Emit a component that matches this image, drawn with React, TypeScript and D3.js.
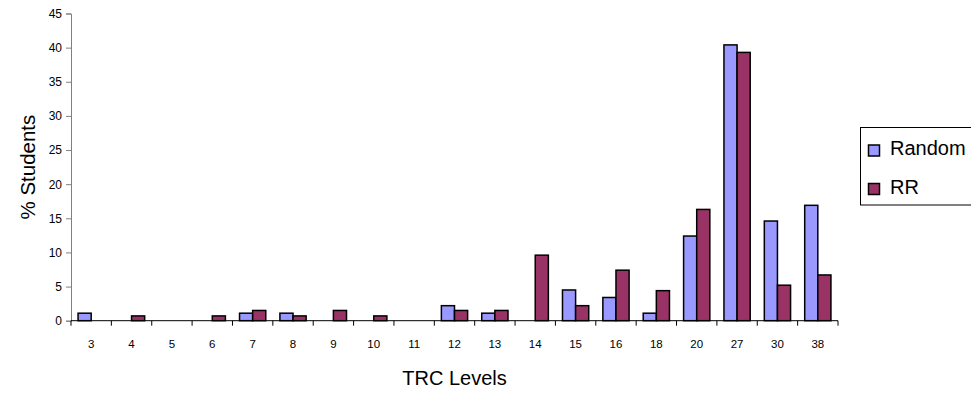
import React, { useEffect, useRef } from 'react';
import * as d3 from 'd3';

// TRC level categories
const levels = ['3', '4', '5', '6', '7', '8', '9', '10', '11', '12', '13', '14', '15', '16', '18', '20', '27', '30', '38'];
// % students per level
const randomValues = [1.1, 0, 0, 0, 1.1, 1.1, 0, 0, 0, 2.2, 1.1, 0, 4.5, 3.4, 1.1, 12.4, 40.4, 14.6, 16.9];
const rrValues = [0, 0.7, 0, 0.7, 1.5, 0.7, 1.5, 0.7, 0, 1.5, 1.5, 9.6, 2.2, 7.4, 4.4, 16.3, 39.3, 5.2, 6.7];
const seriesNames = ['Random', 'RR'];
const seriesColors = ['#9999FF', '#993366'];
const yTicks = [0, 5, 10, 15, 20, 25, 30, 35, 40, 45];

export default function App() {
    const ref = useRef<SVGSVGElement>(null);

    useEffect(() => {
        const svg = d3.select(ref.current);
        svg.selectAll('*').remove();

        const margin = { top: 13.5, left: 71, right: 133, bottom: 73.3 };
        const width = 971;
        const height = 394;
        const font = 'Liberation Sans, Arial, sans-serif';

        const x = d3.scaleBand()
            .domain(levels)
            .range([margin.left, width - margin.right])
            .paddingInner(0.35)
            .paddingOuter(0.175);

        const inner = d3.scaleBand()
            .domain(seriesNames)
            .range([0, x.bandwidth()]);

        const y = d3.scaleLinear()
            .domain([0, 45])
            .range([height - margin.bottom, margin.top]);

        const data = levels.map((lv, i) => ({ lv, values: [randomValues[i], rrValues[i]] }));

        // bars
        const groups = svg.append('g')
            .selectAll('g')
            .data(data)
            .enter()
            .append('g')
            .attr('transform', d => `translate(${x(d.lv)},0)`);

        groups.selectAll('rect')
            .data(d => d.values.map((v, j) => ({ v, name: seriesNames[j], color: seriesColors[j] })).filter(b => b.v > 0))
            .enter()
            .append('rect')
            .attr('x', b => inner(b.name)!)
            .attr('y', b => y(b.v))
            .attr('width', inner.bandwidth())
            .attr('height', b => y(0) - y(b.v))
            .attr('fill', b => b.color)
            .attr('stroke', '#000')
            .attr('stroke-width', 1.5);

        // y axis
        const yAxis = svg.append('g')
            .attr('transform', `translate(${margin.left},0)`)
            .call(d3.axisLeft(y).tickValues(yTicks).tickSize(5).tickPadding(4));
        yAxis.select('.domain').attr('stroke', '#808080');
        yAxis.selectAll('.tick line').attr('stroke', '#808080');
        yAxis.selectAll('text').attr('font-family', font).attr('font-size', 12).attr('fill', '#000');

        // x axis with ticks between categories
        const step = x.step();
        const x0 = margin.left;
        const xAxisG = svg.append('g').attr('transform', `translate(0,${y(0)})`);
        xAxisG.append('line')
            .attr('x1', x0).attr('x2', width - margin.right)
            .attr('stroke', '#000').attr('stroke-width', 1);
        xAxisG.selectAll('line.tk')
            .data(d3.range(levels.length + 1))
            .enter()
            .append('line')
            .attr('class', 'tk')
            .attr('x1', i => x0 + i * step)
            .attr('x2', i => x0 + i * step)
            .attr('y1', 0)
            .attr('y2', 5)
            .attr('stroke', '#000');
        xAxisG.selectAll('text')
            .data(levels)
            .enter()
            .append('text')
            .attr('x', d => x(d)! + x.bandwidth() / 2)
            .attr('y', 27)
            .attr('text-anchor', 'middle')
            .attr('font-family', font)
            .attr('font-size', 11.5)
            .text(d => d);

        // axis titles
        svg.append('text')
            .attr('x', (margin.left + width - margin.right) / 2)
            .attr('y', 385)
            .attr('text-anchor', 'middle')
            .attr('font-family', font)
            .attr('font-size', 20)
            .text('TRC Levels');

        svg.append('text')
            .attr('transform', `translate(35,${(y(0) + y(45)) / 2}) rotate(-90)`)
            .attr('text-anchor', 'middle')
            .attr('font-family', font)
            .attr('font-size', 20.5)
            .text('% Students');

        // legend
        const legend = svg.append('g').attr('transform', 'translate(860.5,127.5)');
        legend.append('rect')
            .attr('width', 120).attr('height', 77.5)
            .attr('fill', '#fff').attr('stroke', '#000').attr('stroke-width', 1);
        seriesNames.forEach((name, i) => {
            const ly = 23 + i * 38.5;
            legend.append('rect')
                .attr('x', 8).attr('y', ly - 5.5)
                .attr('width', 11).attr('height', 11)
                .attr('fill', seriesColors[i]).attr('stroke', '#000').attr('stroke-width', 1.5);
            legend.append('text')
                .attr('x', 29.5).attr('y', ly + 4.5)
                .attr('font-family', font)
                .attr('font-size', 20)
                .text(name);
        });
    }, []);

    return (
        <svg ref={ref} width={971} height={394} style={{ position: 'absolute', left: 0, top: 0, background: '#fff' }} />
    );
}
